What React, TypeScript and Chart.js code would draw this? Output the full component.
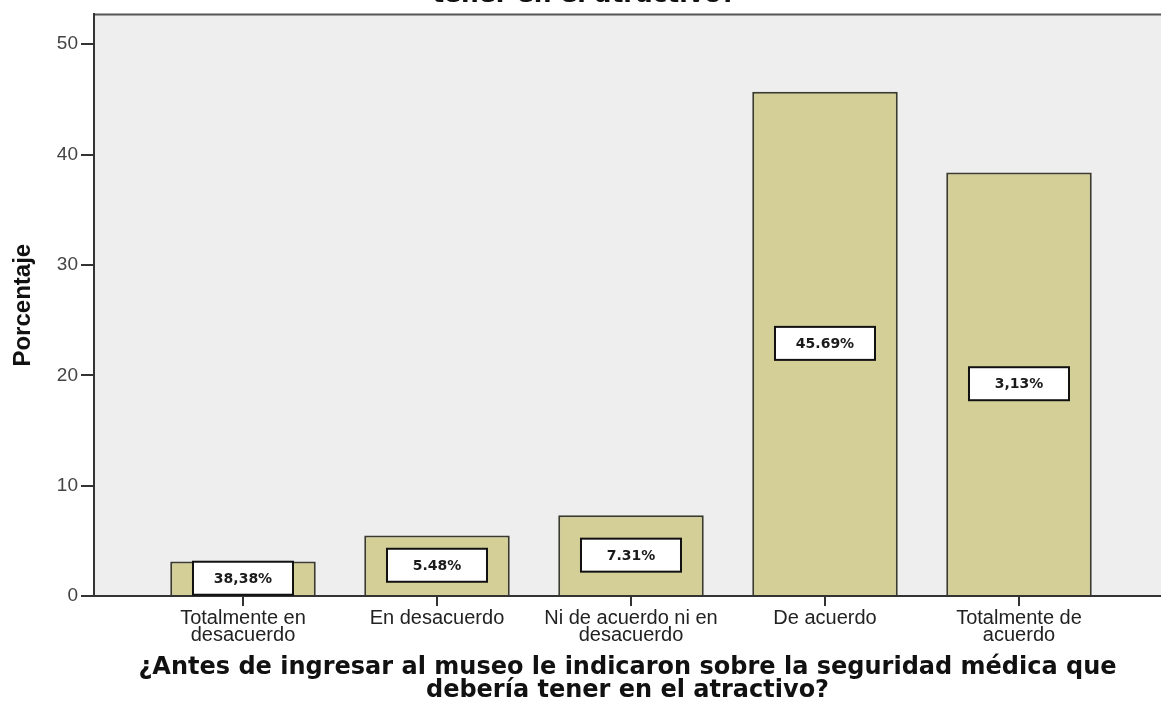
import React, { useEffect, useRef } from 'react';
import { Chart, registerables } from 'chart.js';

Chart.register(...registerables);

// ---------- data ----------
const categories: string[][] = [
  ['Totalmente en', 'desacuerdo'],
  ['En desacuerdo'],
  ['Ni de acuerdo ni en', 'desacuerdo'],
  ['De acuerdo'],
  ['Totalmente de', 'acuerdo'],
];
const percentages: number[] = [3.13, 5.48, 7.31, 45.69, 38.38];
const boxLabels: string[] = ['38,38%', '5.48%', '7.31%', '45.69%', '3,13%'];
const yTicks: number[] = [0, 10, 20, 30, 40, 50];
const xTitle: string[] = [
  '¿Antes de ingresar al museo le indicaron sobre la seguridad médica que',
  'debería tener en el atractivo?',
];
const yTitle = 'Porcentaje';
const topTitleTail = 'tener en el atractivo?';

const X_MIN = -0.768;
const X_MAX = 4.732;
const Y_MAX = 52.7;

const backgroundPlugin = {
  id: 'plotBackground',
  beforeDraw(chart: any) {
    const { ctx, chartArea, width, height } = chart;
    ctx.save();
    ctx.fillStyle = '#ffffff';
    ctx.fillRect(0, 0, width, height);
    ctx.fillStyle = '#eeeeee';
    ctx.fillRect(chartArea.left, chartArea.top, chartArea.right - chartArea.left, chartArea.bottom - chartArea.top);
    ctx.strokeStyle = '#555555';
    ctx.lineWidth = 2;
    ctx.beginPath();
    ctx.moveTo(chartArea.left, chartArea.top);
    ctx.lineTo(chartArea.right + 2, chartArea.top);
    ctx.stroke();
    ctx.restore();
  },
};

const boxLabelPlugin = {
  id: 'boxLabels',
  afterDatasetsDraw(chart: any) {
    const { ctx } = chart;
    const meta = chart.getDatasetMeta(0);
    ctx.save();
    meta.data.forEach((bar: any, i: number) => {
      const { x, y, base } = bar.getProps(['x', 'y', 'base'], true);
      const cy = (y + base) / 2;
      const w = 100;
      const h = 33;
      ctx.fillStyle = '#ffffff';
      ctx.fillRect(x - w / 2, cy - h / 2, w, h);
      ctx.strokeStyle = '#111111';
      ctx.lineWidth = 2;
      ctx.strokeRect(x - w / 2, cy - h / 2, w, h);
      ctx.fillStyle = '#1a1a1a';
      ctx.font = 'bold 14px "DejaVu Sans"';
      ctx.textAlign = 'center';
      ctx.textBaseline = 'middle';
      ctx.fillText(boxLabels[i], x, cy + 1);
    });
    ctx.restore();
  },
};

const topTitlePlugin = {
  id: 'topTitleTail',
  afterDraw(chart: any) {
    const { ctx } = chart;
    ctx.save();
    ctx.fillStyle = '#111111';
    ctx.font = 'bold 25px "DejaVu Sans"';
    ctx.textAlign = 'center';
    ctx.textBaseline = 'alphabetic';
    ctx.fillText(topTitleTail, 584, 2);
    ctx.restore();
  },
};

export default function App() {
  const canvasRef = useRef<HTMLCanvasElement | null>(null);

  useEffect(() => {
    if (!canvasRef.current) return;
    const chart = new Chart(canvasRef.current, {
      type: 'bar',
      data: {
        datasets: [
          {
            data: percentages.map((v, i) => ({ x: i, y: v })),
            backgroundColor: '#d3cf97',
            borderColor: '#3a3a2e',
            borderWidth: 2,
            barPercentage: 0.75,
            categoryPercentage: 1,
          } as any,
        ],
      },
      options: {
        responsive: false,
        devicePixelRatio: 1,
        animation: false,
        layout: { padding: { top: 12, left: 0, right: 0, bottom: 0 } },
        plugins: {
          legend: { display: false },
          tooltip: { enabled: false },
        },
        scales: {
          x: {
            type: 'linear',
            min: X_MIN,
            max: X_MAX,
            offset: false,
            afterBuildTicks: (scale: any) => {
              scale.ticks = categories.map((_, i) => ({ value: i }));
            },
            afterFit: (scale: any) => {
              scale.height = 109;
            },
            ticks: {
              autoSkip: false,
              maxRotation: 0,
              padding: 4,
              color: '#222222',
              font: { family: '"Liberation Sans"', size: 20, lineHeight: 0.85 },
              callback: (v: any) => categories[Math.round(Number(v))] ?? '',
            },
            grid: {
              offset: false,
              drawOnChartArea: false,
              drawTicks: true,
              tickLength: 10,
              color: '#333333',
              lineWidth: 2,
            },
            border: { display: true, color: '#333333', width: 2 },
            title: {
              display: true,
              text: xTitle,
              color: '#111111',
              font: { family: '"DejaVu Sans"', size: 24, weight: 'bold', lineHeight: 0.96 },
              padding: { top: 0, bottom: 3 },
            },
          } as any,
          y: {
            type: 'linear',
            min: 0,
            max: Y_MAX,
            afterBuildTicks: (scale: any) => {
              scale.ticks = yTicks.map((v) => ({ value: v }));
            },
            afterFit: (scale: any) => {
              scale.width = 94;
            },
            ticks: {
              padding: 3,
              color: '#444444',
              font: { family: '"Liberation Sans"', size: 19 },
            },
            grid: {
              drawOnChartArea: false,
              drawTicks: true,
              tickLength: 13,
              color: '#333333',
              lineWidth: 2,
            },
            border: { display: true, color: '#333333', width: 2 },
            title: {
              display: true,
              text: yTitle,
              color: '#111111',
              font: { family: '"Liberation Sans"', size: 24, weight: 'bold' },
              padding: 9,
            },
          } as any,
        },
      },
      plugins: [backgroundPlugin, boxLabelPlugin, topTitlePlugin],
    });
    return () => chart.destroy();
  }, []);

  return (
    <div style={{ position: 'fixed', left: 0, top: 0, width: 1161, height: 705, background: '#ffffff' }}>
      <canvas ref={canvasRef} width={1161} height={705} style={{ display: 'block' }} />
    </div>
  );
}
